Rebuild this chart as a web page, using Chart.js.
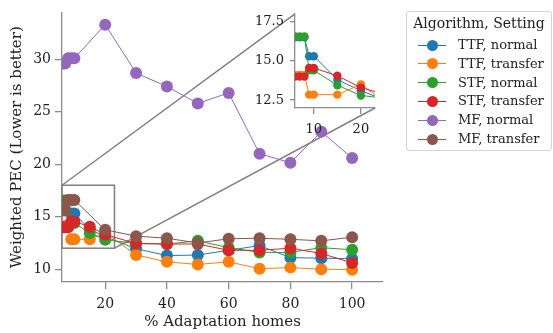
<!DOCTYPE html>
<html>
<head>
<meta charset="utf-8">
<script src="https://cdn.jsdelivr.net/npm/chart.js@4.4.1/dist/chart.umd.min.js"></script>
<style>
  html, body { margin: 0; padding: 0; background: #fff; }
  #wrap { position: relative; width: 553px; height: 333px; overflow: hidden; font-family: "DejaVu Serif", serif; color: #222; }
  #main { position: absolute; left: 0; top: 0; }
  #inset { position: absolute; left: 250px; top: 0; }
  #legend { position: absolute; left: 406px; top: 11px; width: 146px; height: 140px; box-sizing: border-box;
            border: 1px solid #d4d4d4; border-radius: 3px; background: #fff; }
  #legend .title { position: absolute; left: 0; right: 0; top: 2px; text-align: center; font-size: 14px; line-height: 18px; }
  #legend .row { position: absolute; left: 0; height: 18px; width: 100%; }
  #legend .ln { position: absolute; left: 11px; top: 8.5px; width: 28px; height: 1px; }
  #legend .dot { position: absolute; left: 19.5px; top: 3.5px; width: 11px; height: 11px; border-radius: 50%; }
  #legend .lbl { position: absolute; left: 51px; top: 0; font-size: 13px; line-height: 18px; white-space: nowrap; }
</style>
</head>
<body>
<div id="wrap">
  <canvas id="main" width="553" height="333"></canvas>
  <canvas id="inset" width="130" height="135"></canvas>
  <div id="legend"></div>
</div>
<script>
// x positions (% adaptation homes)
const xSteps = [5, 6, 7, 8, 9, 10, 15, 20, 30, 40, 50, 60, 70, 80, 90, 100];
const xStepsMF = [5, 6, 7, 8, 9, 10, 20, 30, 40, 50, 60, 70, 80, 90, 100];

// weighted PEC per series
const ttfNormal   = [16.5, 16.5, 16.5, 16.5, 15.3, 15.3, 13.8, 13.1, 11.95, 11.3, 11.35, 11.8, 12.25, 11.1, 11.05, 11.0];
const ttfTransfer = [14.1, 14.1, 14.1, 14.1, 12.85, 12.85, 12.85, 13.5, 11.35, 10.7, 10.45, 10.7, 10.05, 10.15, 10.0, 9.95];
const stfNormal   = [16.55, 16.55, 16.55, 16.55, 14.4, 14.4, 13.45, 12.8, 12.45, 12.4, 12.7, 12.05, 11.6, 11.6, 12.05, 11.85];
const stfTransfer = [14.0, 14.0, 14.0, 14.0, 14.55, 14.55, 14.05, 13.3, 12.45, 12.4, 12.4, 11.8, 11.8, 12.0, 11.5, 10.6];
const mfNormal    = [29.6, 29.6, 29.6, 30.1, 30.1, 30.1, 33.3, 28.7, 27.4, 25.8, 26.8, 21.0, 20.15, 23.1, 20.6];
const mfTransfer  = [15.6, 15.6, 15.6, 16.6, 16.6, 16.6, 13.75, 13.15, 12.95, 12.5, 12.9, 12.95, 12.85, 12.7, 13.05];

const seriesNames = ["TTF, normal", "TTF, transfer", "STF, normal", "STF, transfer", "MF, normal", "MF, transfer"];
const seriesColors = ["#1f77b4", "#ff7f0e", "#2ca02c", "#d62728", "#9467bd", "#8c564b"];

const xTicks = [20, 40, 60, 80, 100];
const yTicks = [10, 15, 20, 25, 30];
const insetXTicks = [10, 20];
const insetYTicks = [12.5, 15.0, 17.5];

// zoomed window
const zoomX = [6, 23];
const zoomY = [12, 18];

const axisGray = "#8c8c8c";
const boxGray = "#808080";
const fontFamily = "'DejaVu Serif', serif";

function points(xs, ys) {
    return ys.map((y, i) => ({ x: xs[i], y: y }));
}

const allSeries = [
    points(xSteps, ttfNormal),
    points(xSteps, ttfTransfer),
    points(xSteps, stfNormal),
    points(xSteps, stfTransfer),
    points(xStepsMF, mfNormal),
    points(xStepsMF, mfTransfer)
];

function makeDatasets(indices, radius) {
    return indices.map((i) => ({
        label: seriesNames[i],
        data: allSeries[i],
        borderColor: seriesColors[i],
        backgroundColor: seriesColors[i],
        pointBackgroundColor: seriesColors[i],
        pointBorderColor: seriesColors[i],
        pointBorderWidth: 0,
        pointRadius: radius,
        borderWidth: 1,
        tension: 0,
        order: 10 - i
    }));
}

function fixedTicks(values) {
    return (scale) => {
        scale.ticks = values.map((v) => ({ value: v }));
    };
}

// inset first, the main chart needs its corners
const insetLeft = 250;
const insetTop = 0;

const insetChart = new Chart(document.getElementById("inset"), {
    type: "line",
    data: { datasets: makeDatasets([0, 1, 2, 3], 4.2) },
    options: {
        responsive: false,
        animation: false,
        layout: { padding: { left: 0, top: 13, right: 5, bottom: 0 } },
        plugins: { legend: { display: false }, tooltip: { enabled: false } },
        scales: {
            x: {
                type: "linear",
                min: zoomX[0],
                max: zoomX[1],
                afterBuildTicks: fixedTicks(insetXTicks),
                afterFit: (s) => { s.height = 27; },
                border: { color: axisGray, width: 1.3 },
                grid: { drawOnChartArea: false, color: axisGray, lineWidth: 1.3, tickLength: 6 },
                ticks: { font: { family: fontFamily, size: 13 }, color: "#222", padding: 8, maxRotation: 0 }
            },
            y: {
                min: zoomY[0],
                max: zoomY[1],
                afterBuildTicks: fixedTicks(insetYTicks),
                afterFit: (s) => { s.width = 45; },
                border: { color: axisGray, width: 1.3 },
                grid: { drawOnChartArea: false, color: axisGray, lineWidth: 1.3, tickLength: 5 },
                ticks: {
                    font: { family: fontFamily, size: 13 },
                    color: "#222",
                    padding: 6,
                    callback: (v) => v.toFixed(1)
                }
            }
        }
    },
    plugins: [{
        id: "insetFace",
        beforeDraw(chart) {
            const a = chart.chartArea;
            chart.ctx.save();
            chart.ctx.fillStyle = "#fff";
            chart.ctx.fillRect(a.left, a.top, a.right - a.left, a.bottom - a.top);
            chart.ctx.restore();
        }
    }]
});

const zoomMarks = {
    id: "zoomMarks",
    beforeDatasetsDraw(chart) {
        const { ctx, scales } = chart;
        const left = scales.x.getPixelForValue(zoomX[0]);
        const right = scales.x.getPixelForValue(zoomX[1]);
        const top = scales.y.getPixelForValue(zoomY[1]);
        const bottom = scales.y.getPixelForValue(zoomY[0]);
        const a = insetChart.chartArea;
        ctx.save();
        ctx.strokeStyle = boxGray;
        ctx.lineWidth = 1.5;
        ctx.strokeRect(left, top, right - left, bottom - top);
        ctx.beginPath();
        ctx.moveTo(left, top);
        ctx.lineTo(insetLeft + a.left, insetTop + a.top);
        ctx.moveTo(right, bottom);
        ctx.lineTo(insetLeft + a.right, insetTop + a.bottom);
        ctx.stroke();
        ctx.restore();
    }
};

new Chart(document.getElementById("main"), {
    type: "line",
    data: { datasets: makeDatasets([0, 1, 2, 3, 4, 5], 6) },
    options: {
        responsive: false,
        animation: false,
        layout: { padding: { left: 0, top: 5, right: 170, bottom: 0 } },
        plugins: { legend: { display: false }, tooltip: { enabled: false } },
        scales: {
            x: {
                type: "linear",
                min: 6,
                max: 110,
                afterBuildTicks: fixedTicks(xTicks),
                afterFit: (s) => { s.height = 51; },
                border: { color: axisGray, width: 1.3 },
                grid: { drawOnChartArea: false, color: axisGray, lineWidth: 1.3, tickLength: 7 },
                ticks: { font: { family: fontFamily, size: 14 }, color: "#222", padding: 7, maxRotation: 0 },
                title: {
                    display: true,
                    text: "% Adaptation homes",
                    font: { family: fontFamily, size: 15 },
                    color: "#222",
                    padding: { top: 0, bottom: 2 }
                }
            },
            y: {
                min: 8.78,
                max: 34.47,
                afterBuildTicks: fixedTicks(yTicks),
                afterFit: (s) => { s.width = 62; },
                border: { color: axisGray, width: 1.3 },
                grid: { drawOnChartArea: false, color: axisGray, lineWidth: 1.3, tickLength: 7 },
                ticks: { font: { family: fontFamily, size: 14 }, color: "#222", padding: 4 },
                title: {
                    display: true,
                    text: "Weighted PEC (Lower is better)",
                    font: { family: fontFamily, size: 15 },
                    color: "#222",
                    padding: { top: 8, bottom: 0 }
                }
            }
        }
    },
    plugins: [zoomMarks]
});

// legend
const legend = document.getElementById("legend");
const title = document.createElement("div");
title.className = "title";
title.textContent = "Algorithm, Setting";
legend.appendChild(title);
seriesNames.forEach((name, i) => {
    const row = document.createElement("div");
    row.className = "row";
    row.style.top = (24 + i * 18.8) + "px";
    row.innerHTML = '<span class="ln" style="background:' + seriesColors[i] + '"></span>' +
        '<span class="dot" style="background:' + seriesColors[i] + '"></span>' +
        '<span class="lbl">' + name + '</span>';
    legend.appendChild(row);
});
</script>
</body>
</html>
